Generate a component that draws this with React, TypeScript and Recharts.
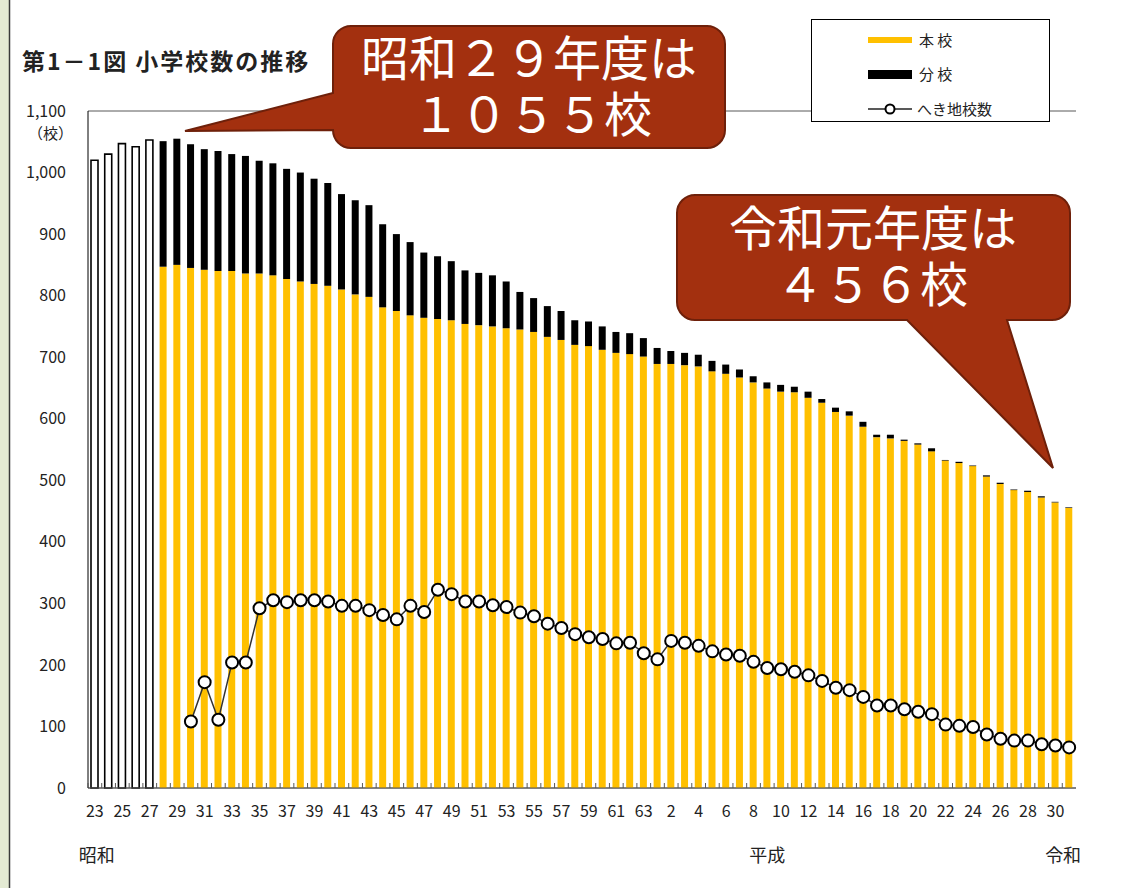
import React from "react";
import { Bar, CartesianGrid, ComposedChart, Line, XAxis, YAxis } from "recharts";

// 年度（昭和23〜63、平成元〜30、令和元）
const years = [
  "23", "24", "25", "26", "27", "28", "29", "30", "31", "32", "33", "34", "35", "36", "37", "38", "39", "40",
  "41", "42", "43", "44", "45", "46", "47", "48", "49", "50", "51", "52", "53", "54", "55", "56", "57", "58",
  "59", "60", "61", "62", "63", "元", "2", "3", "4", "5", "6", "7", "8", "9", "10", "11", "12", "13", "14",
  "15", "16", "17", "18", "19", "20", "21", "22", "23", "24", "25", "26", "27", "28", "29", "30", "元",
];

// 昭和23〜27年度は内訳なし（合計のみ）
const totalOnly = [1020, 1030, 1047, 1042, 1053];

// 本校（昭和28年度〜）
const honkou = [
  847, 850, 845, 842, 840, 840, 836, 836, 833, 827, 823, 819, 816, 810, 802, 798, 781, 775, 768, 764, 762, 760,
  754, 752, 750, 747, 745, 741, 733, 728, 720, 718, 712, 707, 705, 701, 689, 689, 687, 685, 677, 673, 667, 659,
  649, 644, 643, 634, 626, 611, 605, 587, 570, 568, 564, 558, 547, 532, 528, 523, 506, 494, 484, 481, 472, 464, 455,
];

// 分校（昭和28年度〜）
const bunkou = [
  204, 205, 201, 196, 195, 190, 191, 183, 182, 179, 177, 171, 167, 155, 153, 149, 135, 125, 119, 106, 102, 96,
  87, 85, 83, 76, 61, 55, 50, 47, 40, 40, 38, 34, 34, 30, 26, 21, 20, 19, 17, 15, 13, 10, 10, 11, 9, 10, 6, 7,
  7, 8, 4, 6, 2, 2, 5, 1, 2, 1, 2, 2, 1, 2, 2, 1, 1,
];

// へき地校数（昭和30年度〜）
const hekichi = [
  108, 172, 111, 204, 204, 292, 305, 302, 305, 305, 303, 296, 296, 289, 281, 274, 296, 286, 322, 315, 303, 303,
  297, 294, 285, 279, 267, 260, 250, 245, 242, 235, 236, 219, 209, 239, 236, 231, 222, 217, 215, 205, 195, 193,
  189, 183, 174, 163, 159, 148, 134, 134, 128, 124, 120, 103, 101, 99, 87, 80, 77, 77, 71, 69, 66,
];

const yTicks = [0, 100, 200, 300, 400, 500, 600, 700, 800, 900, 1000, 1100];

const splitStart = years.length - honkou.length;
const hekiStart = years.length - hekichi.length;

const data = years.map((y, i) => ({
  year: y,
  total: i < totalOnly.length ? totalOnly[i] : 0,
  main: i >= splitStart ? honkou[i - splitStart] : 0,
  branch: i >= splitStart ? bunkou[i - splitStart] : 0,
  heki: i >= hekiStart ? hekichi[i - hekiStart] : null,
}));

const FONT = "'Noto Sans CJK JP', 'Noto Sans', sans-serif";
const W = 1127;
const H = 888;
const M = { top: 111, right: 51, left: 0, bottom: 0 };
const Y_AXIS_W = 88;
const PLOT_W = W - M.right - Y_AXIS_W;
const BAND = PLOT_W / years.length;
const RED = "#A3300F";

const eras: Record<number, { text: string; dx: number; anchor: string }> = {
  0: { text: "昭和", dx: -16, anchor: "start" },
  49: { text: "平成", dx: 0, anchor: "middle" },
  71: { text: "令和", dx: 12, anchor: "end" },
};

const XTick = (props: any) => {
  const { x, y, index, payload } = props;
  const era = eras[index];
  return (
    <g>
      <line x1={x - BAND / 2} x2={x - BAND / 2} y1={y} y2={y - 5} stroke="#595959" />
      {index % 2 === 0 && (
        <text x={x} y={y + 29} textAnchor="middle" fontSize={16} fill="#222" fontFamily={FONT}>
          {payload.value}
        </text>
      )}
      {era && (
        <text x={x + era.dx} y={y + 74} textAnchor={era.anchor as any} fontSize={18} fill="#222" fontFamily={FONT}>
          {era.text}
        </text>
      )}
    </g>
  );
};

export default function App() {
  return (
    <div style={{ position: "absolute", left: 0, top: 0, width: W, height: H, background: "#fff", overflow: "hidden" }}>
      <ComposedChart width={W} height={H} data={data} margin={M} barCategoryGap={0} barGap={0}>
        <CartesianGrid vertical={false} stroke="#595959" strokeWidth={1} />
        <XAxis
          dataKey="year"
          interval={0}
          height={100}
          tickLine={false}
          tickSize={0}
          tickMargin={0}
          tick={<XTick />}
          axisLine={{ stroke: "#595959" }}
        />
        <YAxis
          yAxisId="l"
          width={Y_AXIS_W}
          domain={[0, 1100]}
          ticks={yTicks}
          interval={0}
          tickLine={false}
          tickSize={0}
          tickMargin={22}
          tickFormatter={(v: number) => v.toLocaleString("en-US")}
          tick={{ fontSize: 16, fill: "#222", fontFamily: FONT }}
          axisLine={{ stroke: "#000" }}
        />
        <YAxis
          yAxisId="r"
          orientation="right"
          width={0}
          domain={[0, 1100]}
          tick={false}
          tickLine={false}
          axisLine={{ stroke: "#595959" }}
        />
        <Bar yAxisId="l" dataKey="total" name="合計" stackId="a" barSize={7} fill="#fff" stroke="#000" strokeWidth={1.6} isAnimationActive={false} />
        <Bar yAxisId="l" dataKey="main" name="本校" stackId="a" barSize={7} fill="#FFC000" isAnimationActive={false} />
        <Bar yAxisId="l" dataKey="branch" name="分校" stackId="a" barSize={7} fill="#000" isAnimationActive={false} />
        <Line
          yAxisId="l"
          dataKey="heki"
          name="へき地校数"
          stroke="#333"
          strokeWidth={1.5}
          dot={{ r: 6, fill: "#fff", stroke: "#000", strokeWidth: 2 }}
          isAnimationActive={false}
        />
      </ComposedChart>

      <svg width={W} height={H} style={{ position: "absolute", left: 0, top: 0, pointerEvents: "none" }}>
        <rect x={0} y={0} width={9} height={H} fill="#E4EAD3" />
        <line x1={9.5} x2={9.5} y1={0} y2={H} stroke="#3a3a3a" strokeWidth={1.5} />

        <text x={22} y={70} fontSize={23} fontWeight="bold" letterSpacing={2} fill="#222" fontFamily={FONT}>
          第1－1図 小学校数の推移
        </text>
        <text x={28} y={139} fontSize={15} fill="#222" fontFamily={FONT}>（校）</text>

        <g>
          <rect x={811.5} y={19.5} width={238} height={102} fill="#fff" stroke="#000" strokeWidth={1} />
          <rect x={868} y={37} width={44} height={6} fill="#FFC000" />
          <text x={919} y={46} fontSize={15} fill="#222" fontFamily={FONT}>本 校</text>
          <rect x={868} y={70} width={44} height={9} fill="#000" />
          <text x={919} y={80} fontSize={15} fill="#222" fontFamily={FONT}>分 校</text>
          <line x1={868} x2={912} y1={109} y2={109} stroke="#222" strokeWidth={1.5} />
          <circle cx={890} cy={109} r={4.5} fill="#fff" stroke="#000" strokeWidth={2} />
          <text x={917} y={115} fontSize={15} fill="#222" fontFamily={FONT}>へき地校数</text>
        </g>

        <path
          d="M351,26 L707,26 A18,18 0 0 1 725,44 L725,130 A18,18 0 0 1 707,148 L351,148 A18,18 0 0 1 333,130 L185,131 L333,93 L333,44 A18,18 0 0 1 351,26 Z"
          fill={RED}
          stroke="#6E200A"
          strokeWidth={2}
        />
        <text x={529} y={76} textAnchor="middle" fontSize={48} fill="#fff" fontFamily={FONT}>昭和２９年度は</text>
        <text x={532} y={132} textAnchor="middle" fontSize={48} fill="#fff" fontFamily={FONT}>１０５５校</text>

        <path
          d="M695,195 L1052,195 A18,18 0 0 1 1070,213 L1070,302 A18,18 0 0 1 1052,320 L1007,320 L1053,468 L907,320 L695,320 A18,18 0 0 1 677,302 L677,213 A18,18 0 0 1 695,195 Z"
          fill={RED}
          stroke="#6E200A"
          strokeWidth={2}
        />
        <text x={873} y={246} textAnchor="middle" fontSize={48} fill="#fff" fontFamily={FONT}>令和元年度は</text>
        <text x={872} y={302} textAnchor="middle" fontSize={48} fill="#fff" fontFamily={FONT}>４５６校</text>
      </svg>
    </div>
  );
}
